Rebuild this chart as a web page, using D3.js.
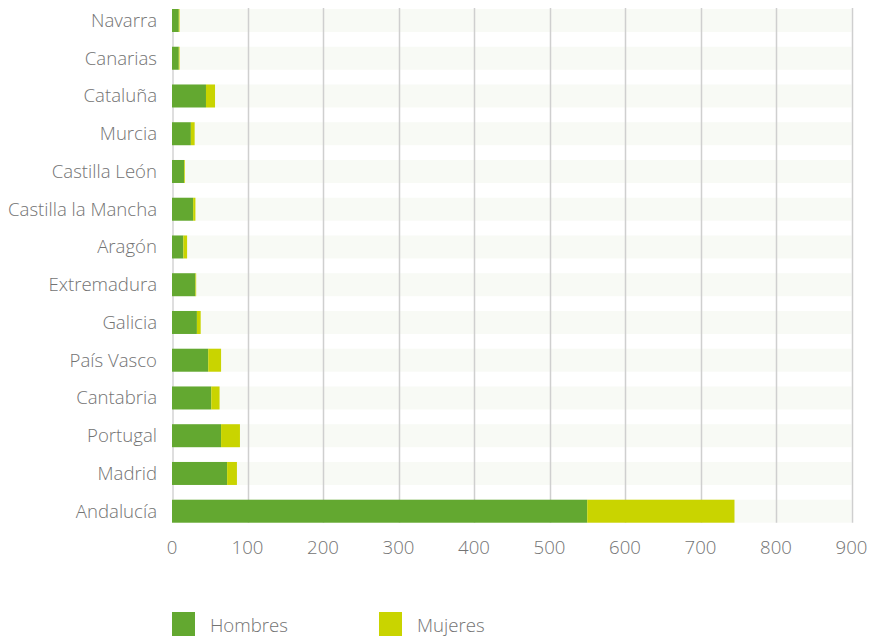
<!DOCTYPE html>
<html>
<head>
<meta charset="utf-8">
<script src="https://cdn.jsdelivr.net/npm/d3@7"></script>
<style>
  body { margin: 0; background: #fff; }
  text { font-family: "Open Sans", sans-serif; font-weight: 300; fill: #737373; }
</style>
</head>
<body>
<script>
var regions = ["Navarra", "Canarias", "Cataluña", "Murcia", "Castilla León", "Castilla la Mancha",
  "Aragón", "Extremadura", "Galicia", "País Vasco", "Cantabria", "Portugal", "Madrid", "Andalucía"];
var hombres = [9, 9, 45, 25, 16, 28, 15, 31, 33, 48, 52, 65, 73, 550];
var mujeres = [1, 1, 12, 5, 1, 3, 5, 1, 5, 17, 11, 25, 13, 195];
var xTicks = [0, 100, 200, 300, 400, 500, 600, 700, 800, 900];
var seriesNames = ["Hombres", "Mujeres"];
var colors = ["#63a830", "#c9d400"];

var w = 869;
var h = 637;

var svg = d3.select("body")
  .append("svg")
  .attr("width", w)
  .attr("height", h);

var xScale = d3.scaleLinear()
  .domain([0, 900])
  .range([172, 851.5]);

var yScale = d3.scaleBand()
  .domain(regions)
  .range([1.6, 530.1])
  .paddingInner(0.391)
  .paddingOuter(0.196);

var bw = yScale.bandwidth();

// row stripes
svg.append("g").selectAll("rect")
  .data(regions)
  .enter()
  .append("rect")
  .attr("x", xScale(0))
  .attr("y", function(d) { return yScale(d); })
  .attr("width", xScale(900) - xScale(0))
  .attr("height", bw)
  .attr("fill", "#f8faf5");

// left axis line
svg.append("rect")
  .attr("x", xScale(0))
  .attr("y", yScale(regions[0]))
  .attr("width", 2)
  .attr("height", yScale(regions[regions.length - 1]) - yScale(regions[0]))
  .attr("fill", "#dedede");

// gridlines
var gridTop = yScale(regions[0]) - 1;
var gridBottom = yScale(regions[regions.length - 1]) + bw;
svg.append("g").selectAll("line")
  .data(xTicks.slice(1))
  .enter()
  .append("line")
  .attr("x1", function(d) { return Math.round(xScale(d)) + 0.5; })
  .attr("x2", function(d) { return Math.round(xScale(d)) + 0.5; })
  .attr("y1", gridTop)
  .attr("y2", gridBottom)
  .attr("stroke", "#cfcfcf")
  .attr("stroke-width", 1.5);

// stacked bars
var rows = regions.map(function(r, i) { return { region: r, Hombres: hombres[i], Mujeres: mujeres[i] }; });
var stack = d3.stack().keys(seriesNames)(rows);

svg.append("g").selectAll("g")
  .data(stack)
  .enter()
  .append("g")
  .attr("fill", function(d, i) { return colors[i]; })
  .selectAll("rect")
  .data(function(d) { return d; })
  .enter()
  .append("rect")
  .attr("x", function(d) { return xScale(d[0]); })
  .attr("y", function(d) { return yScale(d.data.region); })
  .attr("width", function(d) { return xScale(d[1]) - xScale(d[0]); })
  .attr("height", bw);

// y labels
svg.append("g").selectAll("text")
  .data(regions)
  .enter()
  .append("text")
  .attr("x", 157)
  .attr("y", function(d) { return yScale(d) + bw / 2; })
  .attr("dy", "0.35em")
  .style("text-anchor", "end")
  .style("font-size", "18.6px")
  .text(function(d) { return d; });

// x tick labels
svg.append("g").selectAll("text")
  .data(xTicks)
  .enter()
  .append("text")
  .attr("x", function(d) { return xScale(d); })
  .attr("y", 554)
  .style("text-anchor", "middle")
  .style("font-size", "18.6px")
  .text(function(d) { return d; });

// legend
var legend = svg.append("g").selectAll("g")
  .data(seriesNames)
  .enter()
  .append("g")
  .attr("transform", function(d, i) { return "translate(" + (172 + i * 207) + ",612)"; });

legend.append("rect")
  .attr("width", 23)
  .attr("height", 24)
  .attr("fill", function(d, i) { return colors[i]; });

legend.append("text")
  .attr("x", 38)
  .attr("y", 13)
  .attr("dy", "0.35em")
  .style("font-size", "18.6px")
  .text(function(d) { return d; });
</script>
</body>
</html>
